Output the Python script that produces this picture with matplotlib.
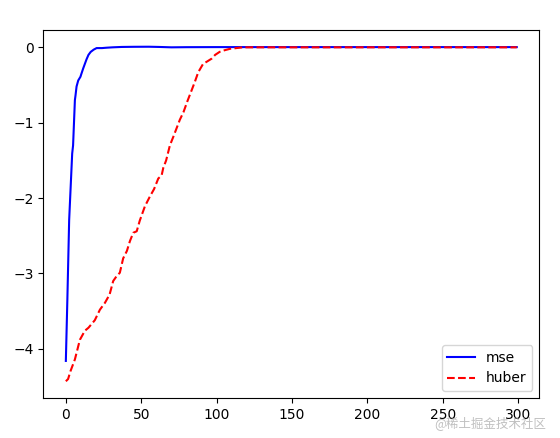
import matplotlib
matplotlib.use("Agg")
import matplotlib.pyplot as plt

mse_x = [0, 1, 2.2, 3.2, 4.2, 4.8, 6, 6.4, 7.1, 8.2, 9.7, 10, 11.5, 13.7, 15, 16.5, 18.5, 20.4, 24, 27, 31, 37, 45, 55, 62, 70, 80, 100, 150, 200, 250, 299]
mse_y = [-4.16, -3.35, -2.29, -1.85, -1.41, -1.30, -0.70, -0.64, -0.52, -0.44, -0.39, -0.37, -0.28, -0.16, -0.10, -0.06, -0.03, -0.01, -0.01, -0.005, 0.0, 0.005, 0.007, 0.008, 0.005, 0.0, 0.002, 0.003, 0.003, 0.003, 0.003, 0.003]

huber_x = [0, 1.5, 3, 6, 9.3, 12.6, 15, 19.2, 22.6, 25.9, 29, 31.4, 33.5, 35.8, 38, 40.5, 42.5, 44.7, 47, 49, 52.4, 55.7, 58.5, 61.3, 63.5, 64.6, 66.5, 69, 71.2, 73.5, 75.6, 78, 80.5, 83.4, 85.5, 87.8, 91, 93.5, 96.7, 99, 102, 105, 108.8, 113, 117.5, 122, 150, 200, 250, 299]
huber_y = [-4.43, -4.40, -4.30, -4.14, -3.88, -3.76, -3.72, -3.62, -3.48, -3.39, -3.28, -3.10, -3.04, -2.99, -2.80, -2.70, -2.57, -2.46, -2.44, -2.30, -2.11, -1.98, -1.88, -1.74, -1.70, -1.60, -1.50, -1.30, -1.19, -1.07, -0.96, -0.86, -0.72, -0.57, -0.46, -0.33, -0.22, -0.19, -0.15, -0.10, -0.06, -0.04, -0.02, -0.01, 0.0, 0.0, 0.0, 0.0, 0.0, 0.0]

fig = plt.figure(figsize=(5.6, 4.38), dpi=100)
ax = fig.add_axes([43.3 / 560, 40 / 438, 496 / 560, 368 / 438])
ax.plot(mse_x, mse_y, color="blue", linestyle="-", label="mse")
ax.plot(huber_x, huber_y, color="red", linestyle="--", label="huber")
ax.legend(loc="lower right")

fig.text(0.975, 0.035, "@稀土掘金技术社区", ha="right", va="center", fontsize=9,
         color="#b0b0b0", alpha=0.8, family=["Noto Sans CJK SC", "DejaVu Sans"])

fig.savefig("out.png", dpi=100)
